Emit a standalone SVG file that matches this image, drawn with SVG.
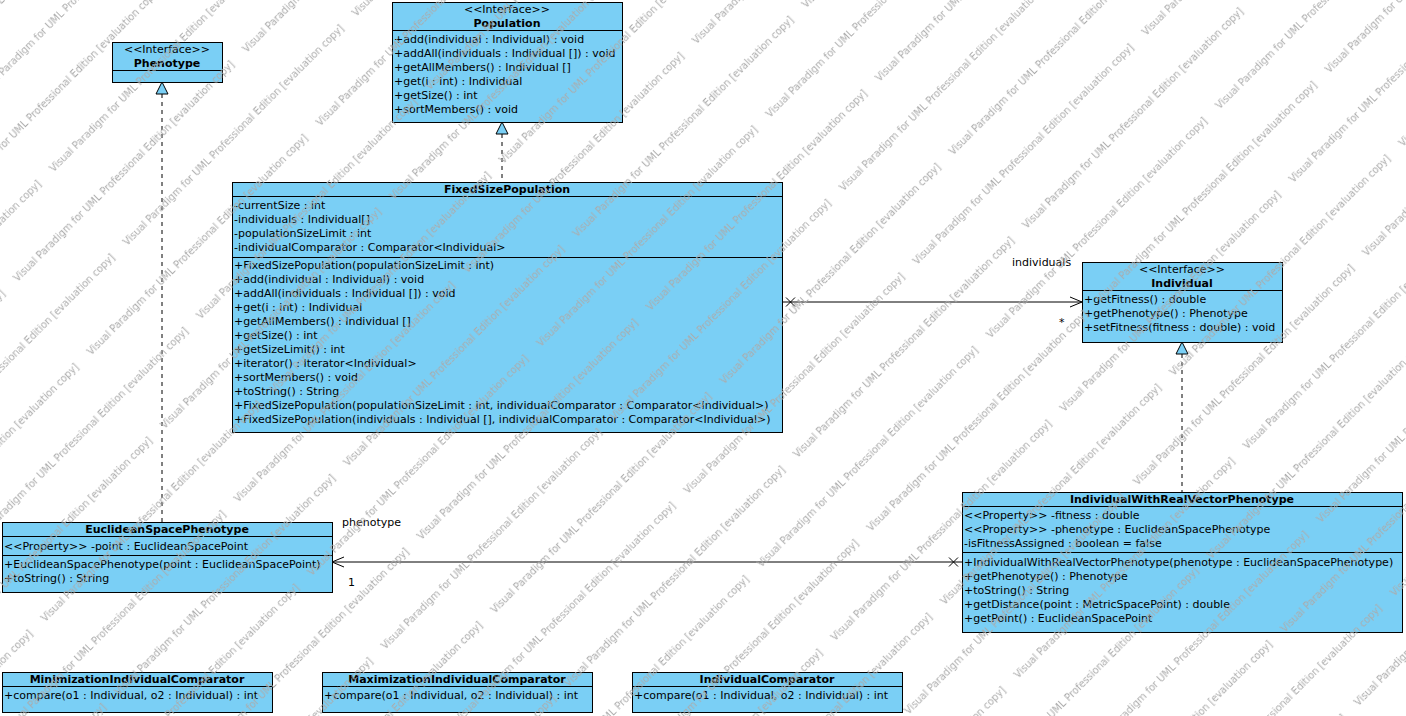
<svg xmlns="http://www.w3.org/2000/svg" width="1406" height="716" viewBox="0 0 1406 716">
<style>
text{font-family:"DejaVu Sans","Liberation Sans",sans-serif;font-size:11px;fill:#000}
.t{font-weight:bold;text-anchor:middle}
.c{text-anchor:middle}
.box{fill:#7ACFF5;stroke:#000;stroke-width:1}
.div{stroke:#000;stroke-width:1}
.ln{fill:none;stroke:#000;stroke-width:1}
.dash{fill:none;stroke:#000;stroke-width:1;stroke-dasharray:4,4}
.tri{fill:#7ACFF5;stroke:#000;stroke-width:1}
.wm{font-size:9.8px;fill:#ababab}
</style>
<defs>
<pattern id="wmp" patternUnits="userSpaceOnUse" x="0" y="-26" width="324" height="104" patternTransform="rotate(-45)">
<text class="wm" x="137" y="29.8">Visual Paradigm for UML Professional Edition [evaluation copy]</text>
<text class="wm" x="-187" y="29.8">Visual Paradigm for UML Professional Edition [evaluation copy]</text>
<text class="wm" x="240" y="81.8">Visual Paradigm for UML Professional Edition [evaluation copy]</text>
<text class="wm" x="-84" y="81.8">Visual Paradigm for UML Professional Edition [evaluation copy]</text>
</pattern>
</defs>
<rect width="1406" height="716" fill="#fff"/>

<g id="connectors">
<line class="dash" x1="162" y1="94" x2="162" y2="522"/>
<polygon class="tri" points="162,82 156,94 168,94"/>
<line class="dash" x1="502" y1="134" x2="502" y2="182"/>
<polygon class="tri" points="502,122 496,134 508,134"/>
<line class="dash" x1="1182" y1="354" x2="1182" y2="492"/>
<polygon class="tri" points="1182,342 1176,354 1188,354"/>
<line class="ln" x1="782" y1="302" x2="1082" y2="302"/>
<polyline class="ln" points="1070,297 1082,302 1070,307"/>
<path class="ln" d="M786,297.5 L795,306.5 M786,306.5 L795,297.5"/>
<text x="1012" y="266">individuals</text>
<text x="1059" y="326">*</text>
<line class="ln" x1="962" y1="562" x2="332" y2="562"/>
<polyline class="ln" points="344,557 332,562 344,567"/>
<path class="ln" d="M949,557.5 L958,566.5 M949,566.5 L958,557.5"/>
<text x="342" y="526">phenotype</text>
<text x="348" y="586">1</text>
</g>

<g id="Phenotype">
<rect class="box" x="112.5" y="42.5" width="110" height="40"/>
<line class="div" x1="112.5" y1="70.5" x2="222.5" y2="70.5"/>
<text class="c" x="167" y="53">&lt;&lt;Interface&gt;&gt;</text>
<text class="t" x="167" y="67">Phenotype</text>
</g>

<g id="Population">
<rect class="box" x="392.5" y="2.5" width="230" height="120"/>
<line class="div" x1="392.5" y1="30.5" x2="622.5" y2="30.5"/>
<text class="c" x="507" y="13">&lt;&lt;Interface&gt;&gt;</text>
<text class="t" x="507" y="27">Population</text>
<text x="394" y="43">+add(individual : Individual) : void</text>
<text x="394" y="57">+addAll(individuals : Individual []) : void</text>
<text x="394" y="71">+getAllMembers() : Individual []</text>
<text x="394" y="85">+get(i : int) : Individual</text>
<text x="394" y="99">+getSize() : int</text>
<text x="394" y="113">+sortMembers() : void</text>
</g>

<g id="FixedSizePopulation">
<rect class="box" x="232.5" y="182.5" width="550" height="250"/>
<line class="div" x1="232.5" y1="196.5" x2="782.5" y2="196.5"/>
<line class="div" x1="232.5" y1="257.5" x2="782.5" y2="257.5"/>
<text class="t" x="507" y="193">FixedSizePopulation</text>
<text x="234" y="209">-currentSize : int</text>
<text x="234" y="223">-individuals : Individual[]</text>
<text x="234" y="237">-populationSizeLimit : int</text>
<text x="234" y="251">-individualComparator : Comparator&lt;Individual&gt;</text>
<text x="234" y="269">+FixedSizePopulation(populationSizeLimit : int)</text>
<text x="234" y="283">+add(individual : Individual) : void</text>
<text x="234" y="297">+addAll(individuals : Individual []) : void</text>
<text x="234" y="311">+get(i : int) : Individual</text>
<text x="234" y="325">+getAllMembers() : Individual []</text>
<text x="234" y="339">+getSize() : int</text>
<text x="234" y="353">+getSizeLimit() : int</text>
<text x="234" y="367">+iterator() : Iterator&lt;Individual&gt;</text>
<text x="234" y="381">+sortMembers() : void</text>
<text x="234" y="395">+toString() : String</text>
<text x="234" y="409">+FixedSizePopulation(populationSizeLimit : int, individualComparator : Comparator&lt;Individual&gt;)</text>
<text x="234" y="423">+FixedSizePopulation(individuals : Individual [], individualComparator : Comparator&lt;Individual&gt;)</text>
</g>

<g id="Individual">
<rect class="box" x="1082.5" y="262.5" width="200" height="80"/>
<line class="div" x1="1082.5" y1="290.5" x2="1282.5" y2="290.5"/>
<text class="c" x="1182" y="273">&lt;&lt;Interface&gt;&gt;</text>
<text class="t" x="1182" y="287">Individual</text>
<text x="1084" y="303">+getFitness() : double</text>
<text x="1084" y="317">+getPhenotype() : Phenotype</text>
<text x="1084" y="331">+setFitness(fitness : double) : void</text>
</g>

<g id="IndividualWithRealVectorPhenotype">
<rect class="box" x="962.5" y="492.5" width="440" height="140"/>
<line class="div" x1="962.5" y1="506.5" x2="1402.5" y2="506.5"/>
<line class="div" x1="962.5" y1="552.5" x2="1402.5" y2="552.5"/>
<text class="t" x="1182" y="503">IndividualWithRealVectorPhenotype</text>
<text x="964" y="519">&lt;&lt;Property&gt;&gt; -fitness : double</text>
<text x="964" y="533">&lt;&lt;Property&gt;&gt; -phenotype : EuclideanSpacePhenotype</text>
<text x="964" y="547">-isFitnessAssigned : boolean = false</text>
<text x="964" y="566">+IndividualWithRealVectorPhenotype(phenotype : EuclideanSpacePhenotype)</text>
<text x="964" y="580">+getPhenotype() : Phenotype</text>
<text x="964" y="594">+toString() : String</text>
<text x="964" y="608">+getDistance(point : MetricSpacePoint) : double</text>
<text x="964" y="622">+getPoint() : EuclideanSpacePoint</text>
</g>

<g id="EuclideanSpacePhenotype">
<rect class="box" x="2.5" y="522.5" width="330" height="70"/>
<line class="div" x1="2.5" y1="536.5" x2="332.5" y2="536.5"/>
<line class="div" x1="2.5" y1="555.5" x2="332.5" y2="555.5"/>
<text class="t" x="167" y="533">EuclideanSpacePhenotype</text>
<text x="4" y="550">&lt;&lt;Property&gt;&gt; -point : EuclideanSpacePoint</text>
<text x="4" y="568">+EuclideanSpacePhenotype(point : EuclideanSpacePoint)</text>
<text x="4" y="582">+toString() : String</text>
</g>

<g id="MinimizationIndividualComparator">
<rect class="box" x="2.5" y="672.5" width="270" height="40"/>
<line class="div" x1="2.5" y1="686.5" x2="272.5" y2="686.5"/>
<text class="t" x="137" y="683">MinimizationIndividualComparator</text>
<text x="4" y="699">+compare(o1 : Individual, o2 : Individual) : int</text>
</g>

<g id="MaximizationIndividualComparator">
<rect class="box" x="322.5" y="672.5" width="270" height="40"/>
<line class="div" x1="322.5" y1="686.5" x2="592.5" y2="686.5"/>
<text class="t" x="457" y="683">MaximizationIndividualComparator</text>
<text x="324" y="699">+compare(o1 : Individual, o2 : Individual) : int</text>
</g>

<g id="IndividualComparator">
<rect class="box" x="632.5" y="672.5" width="270" height="40"/>
<line class="div" x1="632.5" y1="686.5" x2="902.5" y2="686.5"/>
<text class="t" x="767" y="683">IndividualComparator</text>
<text x="634" y="699">+compare(o1 : Individual, o2 : Individual) : int</text>
</g>

<g id="watermark">
<rect width="1406" height="716" fill="url(#wmp)" pointer-events="none"/>
</g>
</svg>
